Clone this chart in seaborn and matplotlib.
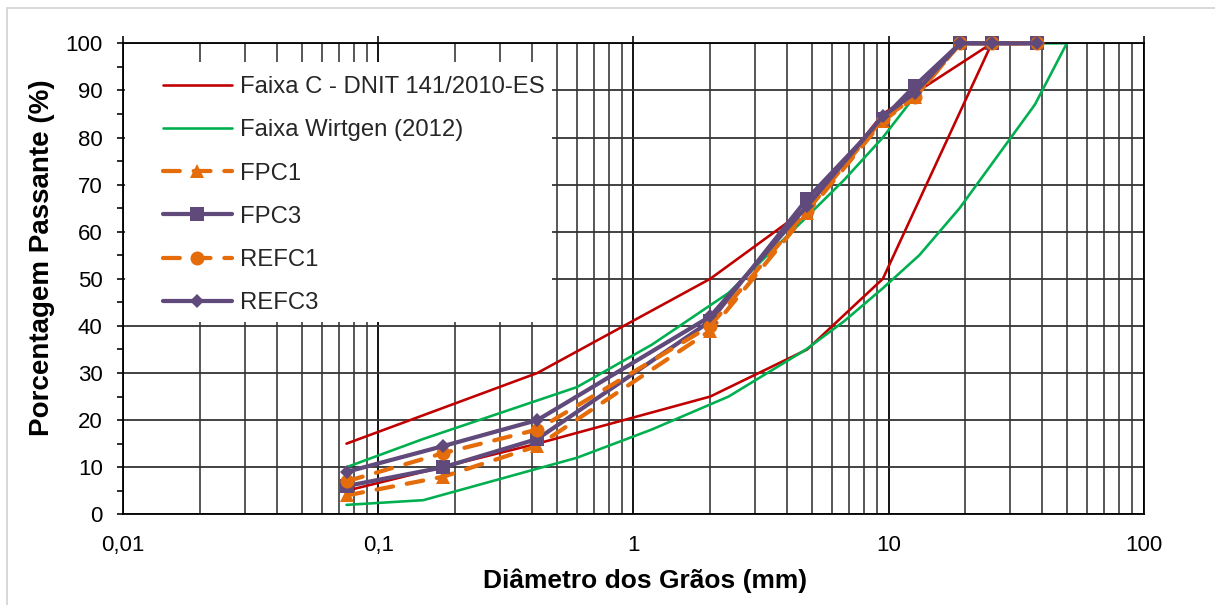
import matplotlib
matplotlib.use("Agg")
import matplotlib.pyplot as plt
import seaborn as sns
from matplotlib.patches import Rectangle
from matplotlib.lines import Line2D
from matplotlib.ticker import FixedLocator, LogLocator, NullFormatter

# Peneiras dos ensaios (mm) e porcentagens passantes
peneiras = [0.075, 0.18, 0.42, 2.0, 4.8, 9.5, 12.7, 19.1, 25.4, 38.1]
fpc1 = [4, 8, 14.5, 39, 64, 83.5, 88.5, 100, 100, 100]
fpc3 = [6, 10, 16, 41, 67, 84, 91, 100, 100, 100]
refc1 = [7, 13, 18, 40, 64.5, 84, 88.5, 100, 100, 100]
refc3 = [9, 14.5, 20, 42, 65.5, 84.5, 89.5, 100, 100, 100]

# Faixa C - DNIT 141/2010-ES (limites inferior e superior)
peneiras_dnit = [0.075, 0.42, 2.0, 4.8, 9.5, 25.4]
dnit_inf = [5, 15, 25, 35, 50, 100]
dnit_sup = [15, 30, 50, 65, 85, 100]

# Faixa Wirtgen (2012) (limites inferior e superior)
peneiras_wirtgen = [0.075, 0.15, 0.6, 1.18, 2.36, 4.75, 6.7, 9.5, 13.2, 19.0, 37.5, 50.0]
wirtgen_inf = [2, 3, 12, 18, 25, 35, 41, 48, 55, 65, 87, 100]
wirtgen_sup = [10, 16, 27, 36, 47, 63, 71, 80, 90, 100, 100, 100]

x_ticks = [0.01, 0.1, 1, 10, 100]
x_tick_labels = ["0,01", "0,1", "1", "10", "100"]
y_ticks = list(range(0, 101, 10))
y_minor = list(range(5, 100, 10))

sns.set_theme(style="white")
plt.rcParams["font.family"] = ["Liberation Sans", "DejaVu Sans"]

W, H = 1215, 605


def pt(v):
    """pixels -> points (dpi 100)"""
    return v * 72 / 100


vermelho = "#C00000"
verde = "#00B050"
laranja = "#E46C0A"
roxo = "#604A7B"

fig = plt.figure(figsize=(W / 100, H / 100), dpi=100)
fig.patch.set_facecolor("white")

L, R, T, B = 123.3, 1143.6, 43.3, 514.3
ax = fig.add_axes([L / W, 1 - B / H, (R - L) / W, (B - T) / H])
ax.set_facecolor("white")
ax.set_xscale("log")
ax.set_xlim(0.01, 100)
ax.set_ylim(0, 100)

# grade
ax.set_axisbelow(True)
ax.xaxis.set_major_locator(FixedLocator(x_ticks))
ax.xaxis.set_minor_locator(LogLocator(base=10, subs=range(2, 10), numticks=20))
ax.xaxis.set_minor_formatter(NullFormatter())
ax.set_xticks(x_ticks)
ax.set_xticklabels(x_tick_labels)
ax.set_yticks(y_ticks)
ax.yaxis.set_minor_locator(FixedLocator(y_minor))
ax.grid(which="major", axis="x", color="black", lw=pt(1.8))
ax.grid(which="minor", axis="x", color="#333333", lw=pt(1.6))
ax.grid(which="major", axis="y", color="#333333", lw=pt(1.8))

for s in ax.spines.values():
    s.set_visible(True)
    s.set_color("black")
    s.set_linewidth(pt(1.8))

ax.tick_params(axis="y", which="both", direction="out", length=pt(6), width=pt(1.6),
               left=True, right=False, color="black", labelsize=16, pad=pt(14.6),
               labelcolor="black")
ax.tick_params(axis="x", which="major", direction="out", length=pt(7), width=pt(1.6),
               bottom=False, top=True, labelbottom=True, labeltop=False,
               color="black", labelsize=16, pad=pt(13.4), labelcolor="black")
ax.tick_params(axis="x", which="minor", bottom=False, top=False)

# fundo branco da legenda sobre a grade
ax.add_patch(Rectangle((125 / W, 1 - 322 / H), (552 - 125) / W, (322 - 62) / H,
                       transform=fig.transFigure, facecolor="white",
                       edgecolor="none", zorder=1.5))

# faixas granulométricas
for xs, ys, cor in [(peneiras_dnit, dnit_sup, vermelho),
                    (peneiras_dnit, dnit_inf, vermelho),
                    (peneiras_wirtgen, wirtgen_sup, verde),
                    (peneiras_wirtgen, wirtgen_inf, verde)]:
    sns.lineplot(x=xs, y=ys, ax=ax, color=cor, lw=pt(2.6), zorder=2,
                 legend=False, estimator=None)

tracejado = (0, (4, 3.3))
estilos = [
    (fpc1, "FPC1", laranja, tracejado, "^", pt(14)),
    (fpc3, "FPC3", roxo, "-", "s", pt(13.5)),
    (refc1, "REFC1", laranja, tracejado, "o", pt(14)),
    (refc3, "REFC3", roxo, "-", "D", pt(10.5)),
]
for ys, nome, cor, ls, mk, ms in estilos:
    sns.lineplot(x=peneiras, y=ys, ax=ax, color=cor, lw=pt(4.2), linestyle=ls,
                 marker=mk, markersize=ms, markeredgecolor=cor, markeredgewidth=0,
                 dash_capstyle="round", solid_capstyle="round", zorder=3,
                 clip_on=False, legend=False, estimator=None)

handles = [
    Line2D([], [], color=vermelho, lw=pt(2.6)),
    Line2D([], [], color=verde, lw=pt(2.6)),
]
for ys, nome, cor, ls, mk, ms in estilos:
    handles.append(Line2D([], [], color=cor, lw=pt(4.2), linestyle=ls, marker=mk,
                          markersize=ms, markeredgewidth=0, dash_capstyle="round",
                          solid_capstyle="round"))
labels = ["Faixa C - DNIT 141/2010-ES", "Faixa Wirtgen (2012)",
          "FPC1", "FPC3", "REFC1", "REFC3"]
leg = ax.legend(handles, labels, loc="upper left",
                bbox_to_anchor=(163 / W, 1 - 76 / H), bbox_transform=fig.transFigure,
                frameon=False, borderpad=0, borderaxespad=0, handlelength=2.88,
                handletextpad=0.34, labelspacing=0.89, prop={"size": 17.2},
                numpoints=1)
leg.set_zorder(5)

# títulos dos eixos
fig.text(42 / W, 1 - 258 / H, "Porcentagem Passante (%)", rotation=90,
         ha="center", va="center", fontsize=20, fontweight="bold", color="black")
fig.text(645 / W, 1 - 581 / H, "Diâmetro dos Grãos (mm)", ha="center",
         va="center", fontsize=19, fontweight="bold", color="black")

# moldura da área do gráfico
fig.add_artist(Line2D([7.3 / W, 7.3 / W], [0, 1 - 8.3 / H], color="#D9D9D9",
                      lw=pt(2), transform=fig.transFigure))
fig.add_artist(Line2D([7.3 / W, 1], [1 - 8.3 / H, 1 - 8.3 / H], color="#D9D9D9",
                      lw=pt(2), transform=fig.transFigure))

fig.savefig("out.png", dpi=100, facecolor="white")
